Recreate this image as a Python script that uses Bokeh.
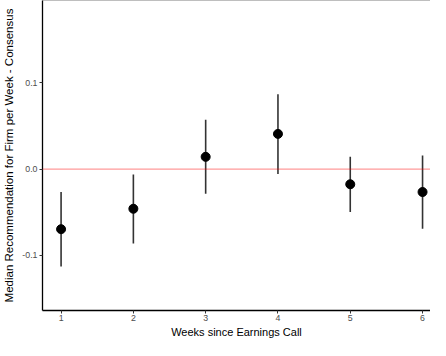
from bokeh.plotting import figure
from bokeh.models import ColumnDataSource, Span, FixedTicker, Range1d, LinearAxis
from bokeh.embed import file_html
from bokeh.resources import INLINE

weeks = [1, 2, 3, 4, 5, 6]
median_rec = [-0.0697, -0.046, 0.0142, 0.0408, -0.0176, -0.0266]
ci_low = [-0.113, -0.0862, -0.0285, -0.0056, -0.0498, -0.0693]
ci_high = [-0.0266, -0.0064, 0.0573, 0.0869, 0.0142, 0.0157]
y_ticks = [-0.1, 0.0, 0.1]
x_title = "Weeks since Earnings Call"
y_title = "Median Recommendation for Firm per Week - Consensus"

src = ColumnDataSource(dict(x=weeks, y=median_rec, lo=ci_low, hi=ci_high))

p = figure(width=430, height=340, output_backend="svg", toolbar_location=None,
           x_range=Range1d(0.743, 6.11), y_range=Range1d(-0.164, 0.1955),
           min_border_left=33, min_border_right=0, min_border_top=0, min_border_bottom=0)
p.outline_line_color = None
p.background_fill_color = "white"
p.border_fill_color = "white"
p.xgrid.visible = False
p.ygrid.visible = False

top_axis = LinearAxis(ticker=FixedTicker(ticks=[]), axis_line_color="#BEBEBE", axis_line_width=1.2,
                      major_tick_line_color=None, minor_tick_line_color=None)
p.add_layout(top_axis, "above")

p.add_layout(Span(location=0.0, dimension="width", line_color="#FF0000", line_alpha=0.4, line_width=1.3))

p.segment(x0="x", y0="lo", x1="x", y1="hi", source=src, line_color="#333333", line_width=1.6)
p.scatter(x="x", y="y", source=src, size=9, fill_color="black", line_color="black")

p.below[0].ticker = FixedTicker(ticks=weeks)
p.left[0].ticker = FixedTicker(ticks=y_ticks)
p.left[0].major_label_overrides = {-0.1: "-0.1", 0.0: "0.0", 0.1: "0.1"}

for ax in (p.below[0], p.left[0]):
    ax.axis_line_color = "black"
    ax.axis_line_width = 1.3
    ax.major_tick_line_color = "#333333"
    ax.major_tick_in = 0
    ax.major_tick_out = 3
    ax.minor_tick_line_color = None
    ax.major_label_text_font = "Liberation Sans"
    ax.major_label_text_font_size = "8.8px"
    ax.major_label_text_color = "#4D4D4D"
    ax.major_label_standoff = 2
    ax.axis_label_text_font = "Liberation Sans"
    ax.axis_label_text_font_style = "normal"
    ax.axis_label_text_color = "black"

p.left[0].axis_label = y_title
p.left[0].axis_label_text_font_size = "11.5px"
p.left[0].axis_label_standoff = 4
p.below[0].axis_label = x_title
p.below[0].axis_label_text_font_size = "11px"
p.below[0].axis_label_standoff = 2
p.below[0].major_label_standoff = 1

open("out.html", "w").write(file_html(p, INLINE))
